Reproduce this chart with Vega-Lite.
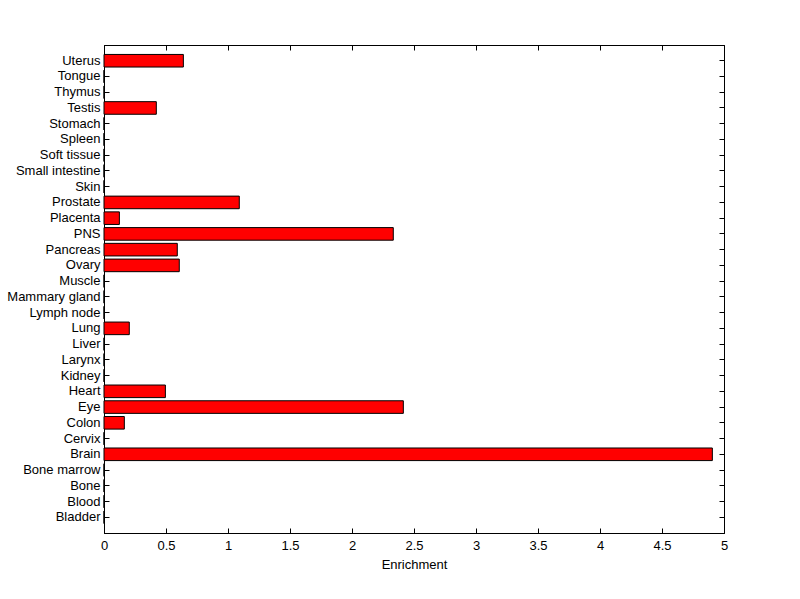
{
  "$schema": "https://vega.github.io/schema/vega-lite/v6.json",
  "autosize": "none",
  "width": 620,
  "height": 488,
  "padding": {"left": 104, "top": 45, "right": 76, "bottom": 66},
  "background": "white",
  "config": {
    "view": {"stroke": "black", "strokeWidth": 1},
    "font": "Liberation Sans",
    "axis": {
      "labelFont": "Liberation Sans",
      "titleFont": "Liberation Sans",
      "labelFontSize": 13,
      "titleFontSize": 13,
      "titleFontWeight": "normal",
      "labelColor": "black",
      "titleColor": "black",
      "domainColor": "black",
      "tickColor": "black",
      "grid": false
    }
  },
  "data": {
    "values": [
      {"tissue": "Bladder", "enrichment": 0},
      {"tissue": "Blood", "enrichment": 0},
      {"tissue": "Bone", "enrichment": 0},
      {"tissue": "Bone marrow", "enrichment": 0},
      {"tissue": "Brain", "enrichment": 4.906},
      {"tissue": "Cervix", "enrichment": 0},
      {"tissue": "Colon", "enrichment": 0.164},
      {"tissue": "Eye", "enrichment": 2.414},
      {"tissue": "Heart", "enrichment": 0.495},
      {"tissue": "Kidney", "enrichment": 0},
      {"tissue": "Larynx", "enrichment": 0},
      {"tissue": "Liver", "enrichment": 0},
      {"tissue": "Lung", "enrichment": 0.204},
      {"tissue": "Lymph node", "enrichment": 0},
      {"tissue": "Mammary gland", "enrichment": 0},
      {"tissue": "Muscle", "enrichment": 0},
      {"tissue": "Ovary", "enrichment": 0.607},
      {"tissue": "Pancreas", "enrichment": 0.591},
      {"tissue": "PNS", "enrichment": 2.333},
      {"tissue": "Placenta", "enrichment": 0.124},
      {"tissue": "Prostate", "enrichment": 1.091},
      {"tissue": "Skin", "enrichment": 0},
      {"tissue": "Small intestine", "enrichment": 0},
      {"tissue": "Soft tissue", "enrichment": 0},
      {"tissue": "Spleen", "enrichment": 0},
      {"tissue": "Stomach", "enrichment": 0},
      {"tissue": "Testis", "enrichment": 0.422},
      {"tissue": "Thymus", "enrichment": 0},
      {"tissue": "Tongue", "enrichment": 0},
      {"tissue": "Uterus", "enrichment": 0.64}
    ]
  },
  "layer": [
    {
      "mark": {"type": "bar", "fill": "#FF0000", "stroke": "black", "strokeWidth": 1},
      "encoding": {
        "y": {
          "field": "tissue", "type": "nominal",
          "sort": ["Uterus","Tongue","Thymus","Testis","Stomach","Spleen","Soft tissue","Small intestine","Skin","Prostate","Placenta","PNS","Pancreas","Ovary","Muscle","Mammary gland","Lymph node","Lung","Liver","Larynx","Kidney","Heart","Eye","Colon","Cervix","Brain","Bone marrow","Bone","Blood","Bladder"],
          "scale": {"paddingInner": 0.2, "paddingOuter": 0.6},
          "axis": {"title": null, "orient": "left", "tickSize": -5, "labelPadding": 9, "domain": true}
        },
        "x": {
          "field": "enrichment", "type": "quantitative",
          "scale": {"domain": [0, 5], "nice": false},
          "axis": {"title": "Enrichment", "orient": "bottom", "values": [0,0.5,1,1.5,2,2.5,3,3.5,4,4.5,5], "labelExpr": "'' + datum.value", "labelFlush": false, "tickSize": -5, "labelPadding": 11, "titlePadding": 6}
        }
      }
    },
    {
      "mark": {"type": "bar", "opacity": 0},
      "encoding": {
        "y": {
          "field": "tissue", "type": "nominal",
          "sort": ["Uterus","Tongue","Thymus","Testis","Stomach","Spleen","Soft tissue","Small intestine","Skin","Prostate","Placenta","PNS","Pancreas","Ovary","Muscle","Mammary gland","Lymph node","Lung","Liver","Larynx","Kidney","Heart","Eye","Colon","Cervix","Brain","Bone marrow","Bone","Blood","Bladder"],
          "axis": {"title": null, "orient": "right", "tickSize": -5, "labels": false}
        },
        "x": {
          "field": "enrichment", "type": "quantitative",
          "axis": {"title": null, "orient": "top", "values": [0,0.5,1,1.5,2,2.5,3,3.5,4,4.5,5], "tickSize": -5, "labels": false}
        }
      }
    }
  ],
  "resolve": {"axis": {"x": "independent", "y": "independent"}}
}
